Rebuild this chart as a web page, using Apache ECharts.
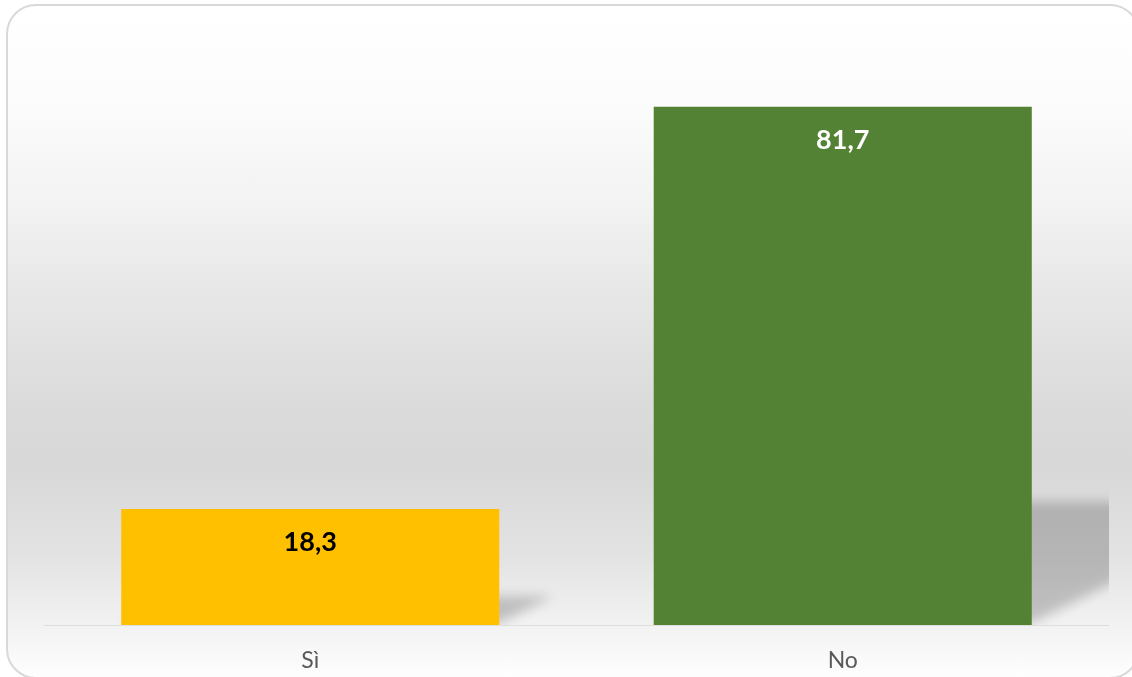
<!DOCTYPE html>
<html>
<head>
<meta charset="utf-8">
<script src="https://cdn.jsdelivr.net/npm/echarts@6/dist/echarts.min.js"></script>
<style>
  html, body { margin: 0; padding: 0; width: 1132px; height: 677px; overflow: hidden; background: #ffffff; }
  #frame {
    position: absolute; left: 6px; top: 4px; width: 1134px; height: 675px;
    border: 2px solid #d9d9d9; border-radius: 30px; box-sizing: border-box;
    background: linear-gradient(to bottom, #ffffff 0%, #fcfcfc 14%, #f3f3f3 29%, #e6e6e6 44%, #dbdbdb 59%, #d8d8d8 69%, #e3e3e3 82%, #f0f0f0 91%, #fefefe 100%);
  }
  #chart { position: absolute; left: 0; top: 0; width: 1132px; height: 677px; }
</style>
</head>
<body>
<div id="frame"></div>
<div id="chart"></div>
<script>
// Risposte (%)
const categories = ['Sì', 'No'];
const values = [18.3, 81.7];

const barColors = ['#FFC000', '#548235'];
const labelColors = ['#000000', '#ffffff'];

const chart = echarts.init(document.getElementById('chart'), null, { renderer: 'canvas' });

const fmt = v => String(v).replace('.', ',');

// Soft perspective shadow cast to the right of each bar.
// The shape is drawn off to the side and only its blurred shadow is brought back.
const SHIFT = 3000;
function renderShadow(params, api) {
  const idx = api.value(0);
  const val = api.value(1);
  const base = api.coord([idx, 0]);
  const top = api.coord([idx, val]);
  const band = api.size([1, 0])[0];
  const w = band * 0.71;
  const x0 = base[0] - w / 2, x1 = base[0] + w / 2;
  const yb = base[1] - 2;
  const h = yb - top[1];
  const sh = h * 0.235;
  const dx = sh / 0.5;
  return {
    type: 'polygon',
    shape: { points: [[x0 - SHIFT, yb], [x1 - SHIFT, yb], [x1 + dx - SHIFT, yb - sh], [x0 + dx - SHIFT, yb - sh]] },
    style: {
      fill: '#000000',
      shadowBlur: 12,
      shadowOffsetX: SHIFT,
      shadowColor: 'rgba(0,0,0,0.2)'
    },
    silent: true
  };
}

chart.setOption({
  animation: false,
  backgroundColor: 'transparent',
  grid: { left: 44, right: 23, top: 54, bottom: 52, containLabel: false },
  xAxis: {
    type: 'category',
    data: categories,
    axisLine: { show: true, lineStyle: { color: '#dedede', width: 1 } },
    axisTick: { show: false },
    axisLabel: {
      color: '#595959', fontSize: 23, fontFamily: 'Lato, "Open Sans", sans-serif', margin: 24
    }
  },
  yAxis: {
    type: 'value', min: 0, max: 90, show: false,
    splitLine: { show: false }
  },
  series: [
    {
      type: 'custom',
      clip: true,
      renderItem: renderShadow,
      data: values.map((v, i) => [i, v]),
      encode: { x: 0, y: 1 },
      z: 1
    },
    {
      type: 'bar',
      barWidth: '71%',
      z: 2,
      data: values.map((v, i) => ({
        value: v,
        itemStyle: { color: barColors[i] },
        label: { color: labelColors[i] }
      })),
      label: {
        show: true,
        position: 'insideTop',
        distance: 20,
        fontSize: 27,
        fontWeight: 'bold',
        fontFamily: 'Lato, "Open Sans", sans-serif',
        formatter: p => fmt(p.value)
      }
    }
  ]
});
</script>
</body>
</html>
